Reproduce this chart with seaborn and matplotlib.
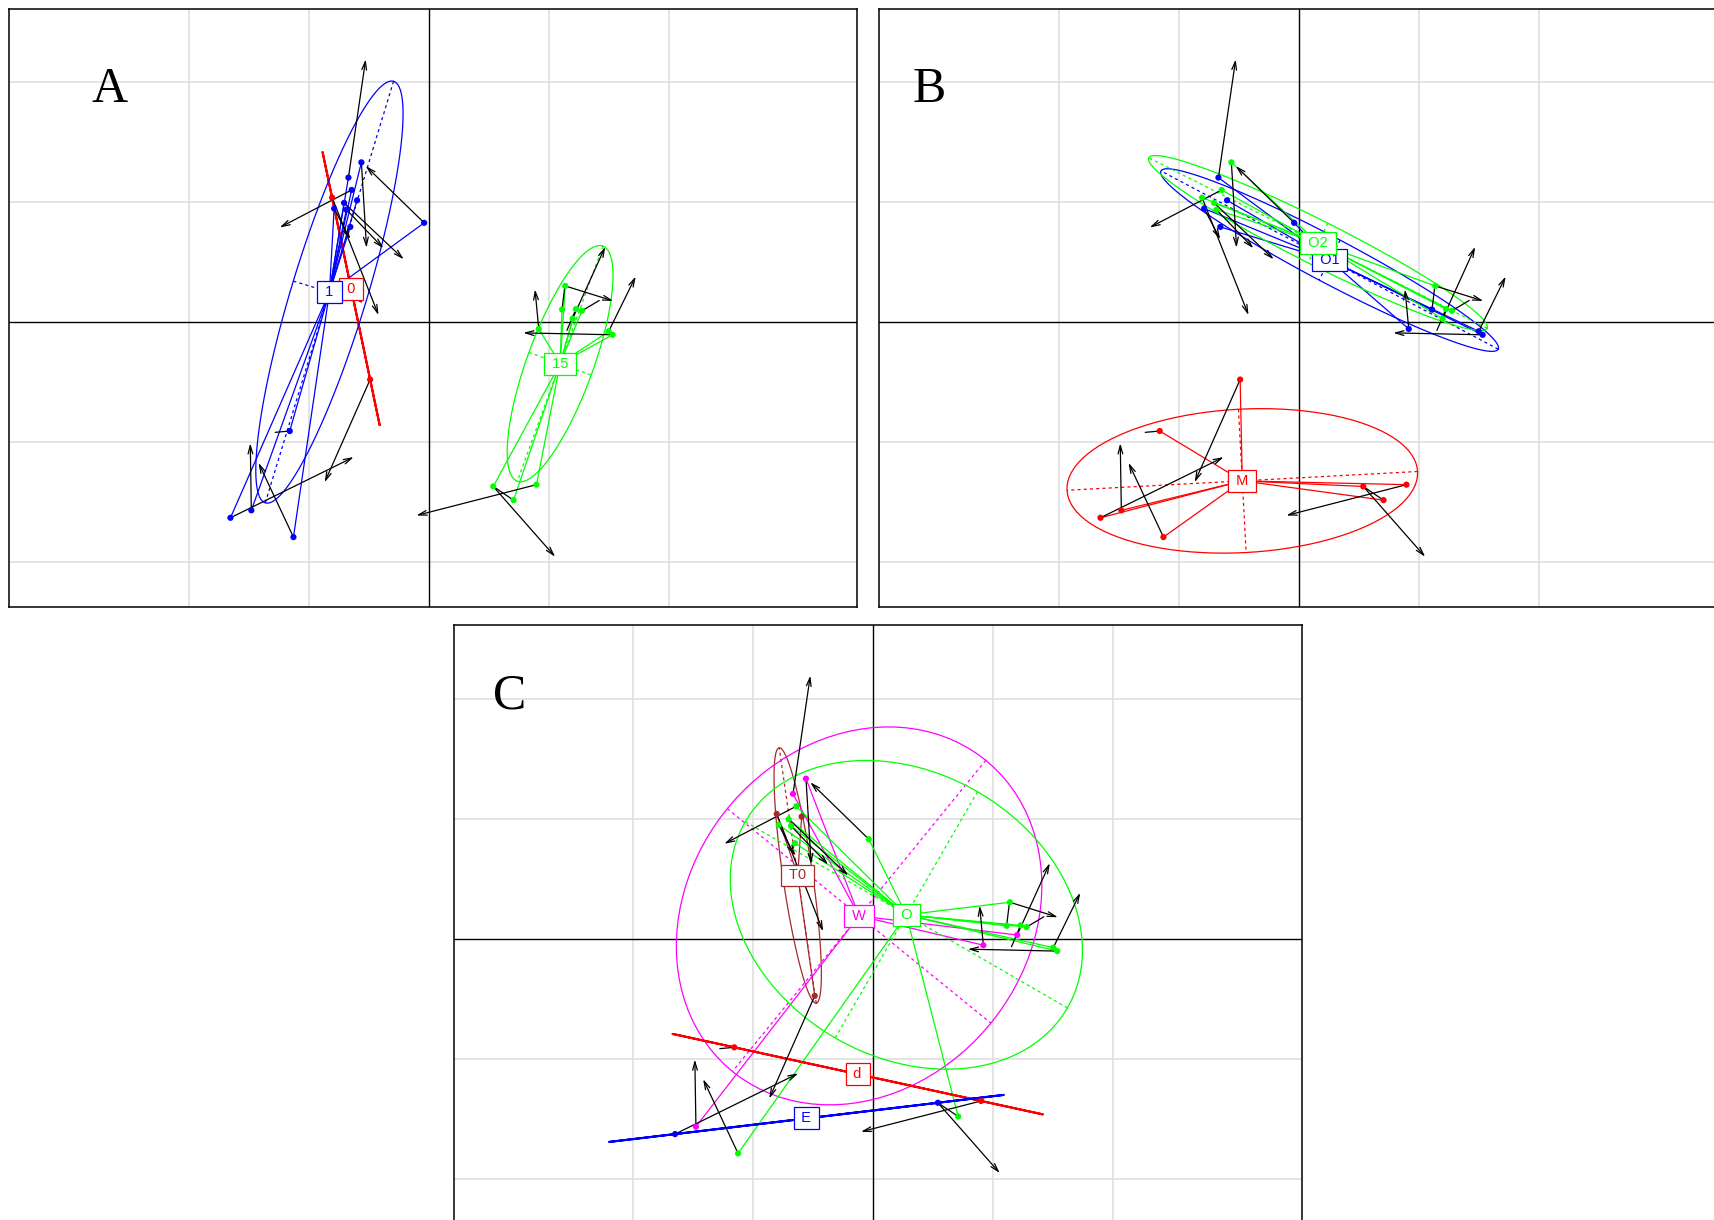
import numpy as np
import pandas as pd
import matplotlib
matplotlib.use("Agg")
import matplotlib.pyplot as plt
import seaborn as sns

# ---- data (grid units): dots (first configuration) and arrow tips (second configuration)
x1 = [-0.561, -0.669, -0.642, -0.805, -0.597, -0.705, -0.788, -0.686, -0.653, -0.038,
      -0.488, 1.138, 1.111, 1.227, 1.277, 1.199, 0.917, 1.500, 1.533, 0.707,
      0.538, 0.898, -1.652, -1.478, -1.127, -1.158]
y1 = [1.333, 1.206, 1.103, 1.039, 1.017, 0.995, 0.948, 0.939, 0.795, 0.829,
      -0.477, 0.303, 0.107, 0.110, 0.096, 0.030, -0.055, -0.075, -0.104, -1.482,
      -1.368, -1.353, -1.629, -1.567, -1.790, -0.906]
x2 = [-0.518, -0.525, -1.242, -0.418, -0.592, -0.208, -0.654, -0.377, -0.657, -0.525,
      -0.867, 1.538, 1.133, 1.152, 1.421, 1.471, 0.886, 1.725, 0.788, 0.554,
      1.054, -0.103, -0.625, -1.487, -1.418, -1.279]
y2 = [0.621, 2.192, 0.790, 0.060, 1.008, 0.525, 0.692, 0.617, 0.783, 1.303,
      -1.333, 0.178, 0.288, -0.067, 0.182, 0.629, 0.275, 0.382, -0.088, -1.379,
      -1.954, -1.610, -1.123, -1.008, -1.171, -0.917]

group_A = ['1', '1', '1', '0', '1', '1', '1', '1', '1', '1', '0',
           '15', '15', '15', '15', '15', '15', '15', '15', '15', '15', '15',
           '1', '1', '1', '1']
group_B = ['O2', 'O1', 'O2', 'O2', 'O1', 'O2', 'O1', 'O2', 'O1', 'O1', 'M',
           'O2', 'O1', 'O2', 'O2', 'O2', 'O1', 'O1', 'O1', 'M', 'M', 'M',
           'M', 'M', 'M', 'M']
group_C = ['W', 'W', 'O', 'T0', 'T0', 'O', 'O', 'O', 'O', 'O', 'T0',
           'O', 'O', 'O', 'O', 'W', 'W', 'O', 'O', 'O', 'E', 'd',
           'E', 'W', 'O', 'd']

levels_A = ['0', '1', '15']
levels_B = ['M', 'O1', 'O2']
levels_C = ['T0', 'W', 'O', 'd', 'E']
colors_A = {'0': '#FF0000', '1': '#0000FF', '15': '#00FF00'}
colors_B = {'M': '#FF0000', 'O1': '#0000FF', 'O2': '#00FF00'}
colors_C = {'T0': '#A52A2A', 'W': '#FF00FF', 'O': '#00FF00', 'd': '#FF0000', 'E': '#0000FF'}

panel_letters = ['A', 'B', 'C']
grid_values = [-2, -1, 1, 2]

# ---- layout constants
W, H = 1714, 1220
XLIM = (-3.4975, 3.5692)
YLIM = (-2.3725, 2.611)
CELLIPSE = 1.5
HEAD_MIN = 0.2


def util_ellipse(mx, my, vx, cxy, vy, coeff):
    vx = max(vx, 0.0)
    vy = max(vy, 0.0)
    delta = np.sqrt((vx - vy) ** 2 + 4 * cxy * cxy)
    l1 = max((vx + vy + delta) / 2, 0.0)
    l2 = max(vx + vy - l1, 0.0)
    l1, l2 = np.sqrt(l1), np.sqrt(l2)
    if vx == 0:
        a0, b0 = 0.0, 1.0
    elif vy == 0:
        a0, b0 = 1.0, 0.0
    elif abs(cxy) < 1e-10:
        a0, b0 = (1.0, 0.0) if vx > vy else (0.0, 1.0)
    else:
        a0 = 1.0
        b0 = (l1 * l1 - vx) / cxy
        nrm = np.hypot(a0, b0)
        a0, b0 = a0 / nrm, b0 / nrm
    c11 = coeff * a0 * l1
    c12 = -coeff * b0 * l2
    c21 = coeff * b0 * l1
    c22 = coeff * a0 * l2
    ang = np.linspace(0, 2 * np.pi, 101)
    ex = mx + c11 * np.cos(ang) + c12 * np.sin(ang)
    ey = my + c21 * np.cos(ang) + c22 * np.sin(ang)
    seg1 = ([mx + c11, mx - c11], [my + c21, my - c21])
    seg2 = ([mx + c12, mx - c12], [my + c22, my - c22])
    return ex, ey, seg1, seg2


def draw_panel(ax, groups, levels, palette):
    df = pd.DataFrame({'x': x1, 'y': y1, 'x2': x2, 'y2': y2, 'grp': groups})
    for g in grid_values:
        ax.axvline(g, color='#DCDCDC', lw=1.1, zorder=0)
        ax.axhline(g, color='#DCDCDC', lw=1.1, zorder=0)
    ax.axvline(0, color='black', lw=1.0, zorder=1)
    ax.axhline(0, color='black', lw=1.0, zorder=1)

    cents = {}
    for lev in levels:
        sub = df[df.grp == lev]
        col = palette[lev]
        mx, my = sub.x.mean(), sub.y.mean()
        cents[lev] = (mx, my)
        for _, r in sub.iterrows():
            ax.plot([mx, r.x], [my, r.y], color=col, lw=0.9, zorder=2)
        vx = ((sub.x - mx) ** 2).mean()
        vy = ((sub.y - my) ** 2).mean()
        cxy = ((sub.x - mx) * (sub.y - my)).mean()
        ex, ey, s1, s2 = util_ellipse(mx, my, vx, cxy, vy, CELLIPSE)
        lw_e = 1.5 if len(sub) <= 2 else 0.9
        ax.plot(ex, ey, color=col, lw=lw_e, zorder=2)
        ax.plot(s1[0], s1[1], color=col, lw=0.9, ls=(0, (2.5, 2.5)), zorder=2)
        ax.plot(s2[0], s2[1], color=col, lw=0.9, ls=(0, (2.5, 2.5)), zorder=2)

    for _, r in df.iterrows():
        d = np.hypot(r.x2 - r.x, r.y2 - r.y)
        if d > HEAD_MIN:
            ax.annotate('', xy=(r.x2, r.y2), xytext=(r.x, r.y),
                        arrowprops=dict(arrowstyle='->,head_length=0.6,head_width=0.17',
                                        color='black', lw=0.9, shrinkA=0, shrinkB=0,
                                        mutation_scale=10),
                        zorder=3, annotation_clip=False)
        else:
            ax.plot([r.x, r.x2], [r.y, r.y2], color='black', lw=0.9, zorder=3)

    sns.scatterplot(data=df, x='x', y='y', hue='grp', hue_order=levels, palette=palette,
                    s=20, linewidth=0, legend=False, ax=ax, zorder=5)

    for lev in levels:
        mx, my = cents[lev]
        ax.text(mx, my, f' {lev} ', color=palette[lev], fontsize=10.5, ha='center', va='center',
                family=['Liberation Sans', 'DejaVu Sans'], zorder=7,
                bbox=dict(boxstyle='square,pad=0.27', fc='white', ec=palette[lev], lw=0.9))

    ax.set_xlim(XLIM)
    ax.set_ylim(YLIM)
    ax.set_xticks([])
    ax.set_yticks([])
    ax.set_xlabel('')
    ax.set_ylabel('')
    for sp in ax.spines.values():
        sp.set_visible(True)
        sp.set_color('black')
        sp.set_linewidth(1.1)


sns.set_style('white')
plt.rcParams['font.family'] = ['Liberation Sans', 'DejaVu Sans']

fig = plt.figure(figsize=(W / 100, H / 100), dpi=100)


def add_panel(left, top):
    return fig.add_axes([left / W, 1 - (top + 598) / H, 848 / W, 598 / H])


axA = add_panel(9, 9)
axB = add_panel(879, 9)
axC = add_panel(453.6, 625.3)

draw_panel(axA, group_A, levels_A, colors_A)
draw_panel(axB, group_B, levels_B, colors_B)
draw_panel(axC, group_C, levels_C, colors_C)

letter_pos = [(109.7, 101.7), (929.0, 101.7), (509.4, 708.4)]
for lab, (px, py) in zip(panel_letters, letter_pos):
    fig.text(px / W, 1 - py / H, lab, ha='center', va='baseline', fontsize=36,
             color='black', family=['Liberation Serif', 'DejaVu Serif'])

fig.savefig('out.png', dpi=100)
